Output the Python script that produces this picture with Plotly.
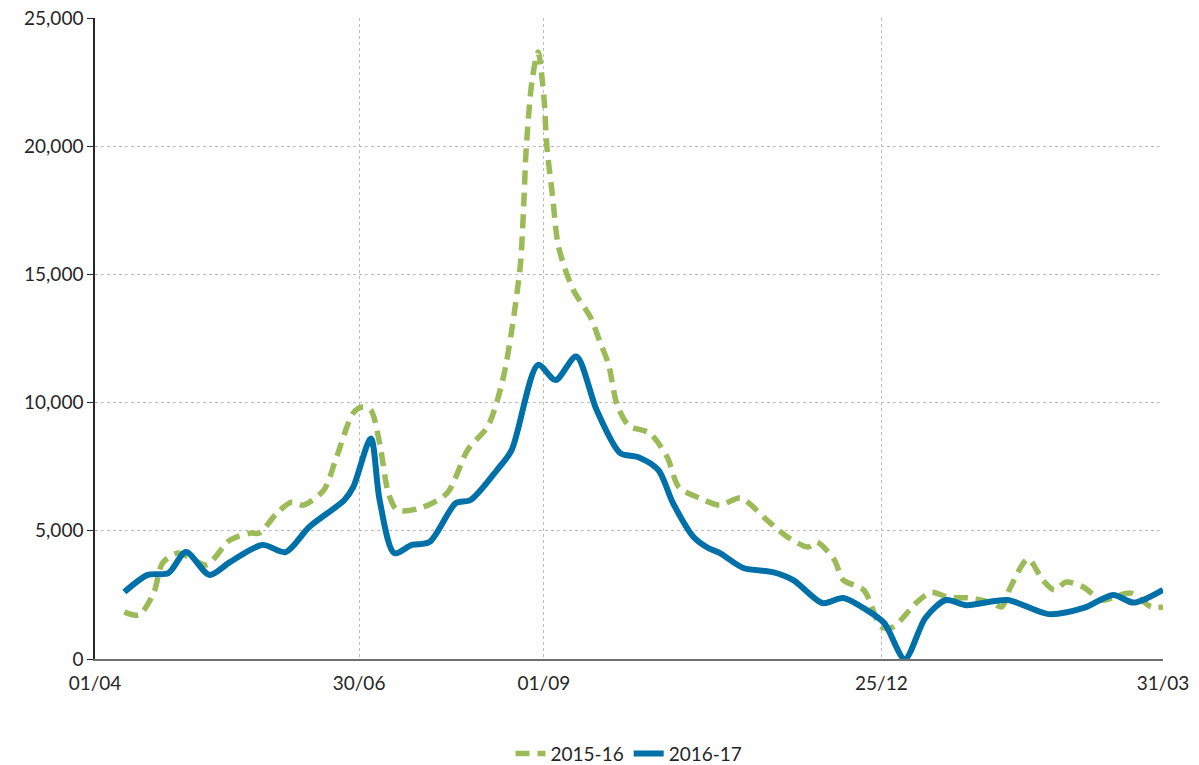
import plotly.graph_objects as go

# Day index from 01/04 (0) to 31/03 (364)
tick_days = [0, 90, 153, 268, 364]
tick_labels = ["01/04", "30/06", "01/09", "25/12", "31/03"]

days_1516 = [10, 15, 20, 23, 28, 32, 38, 46, 53, 56, 62, 67, 71, 78, 82, 88, 91, 94, 97, 100,
             103, 111, 120, 127, 134, 139, 142, 145, 146, 147, 149, 151, 153, 154, 156, 158,
             163, 169, 172, 175, 178, 182, 189, 195, 199, 206, 213, 220, 229, 236, 243, 246,
             252, 255, 262, 268, 272, 280, 285, 291, 298, 306, 309, 312, 318, 323, 327, 331,
             337, 343, 353, 360, 364]
vals_1516 = [1830, 1720, 2570, 3740, 4130, 3980, 3670, 4640, 4910, 4910, 5690, 6120, 6000,
             6590, 7760, 9590, 9830, 9710, 8420, 6470, 5810, 5890, 6470, 8150, 9100, 10900,
             12800, 15400, 17400, 19970, 22600, 23670, 21900, 20000, 18000, 16070, 14400,
             13300, 12400, 11500, 9900, 9100, 8810, 7880, 6700, 6280, 6000, 6280, 5420, 4760,
             4370, 4560, 3860, 3080, 2690, 1250, 1250, 2200, 2600, 2400, 2380, 2180, 2030,
             2800, 3900, 3080, 2690, 3000, 2800, 2300, 2570, 2030, 2030]

days_1617 = [10, 18, 25, 31, 39, 46, 57, 65, 73, 85, 88, 94, 97, 102, 108, 114, 123, 128,
             137, 142, 151, 157, 164, 171, 179, 185, 192, 197, 204, 209, 213, 221, 231, 238,
             248, 255, 263, 269, 276, 283, 290, 297, 311, 325, 337, 347, 354, 364]
vals_1617 = [2610, 3280, 3350, 4170, 3280, 3780, 4450, 4170, 5150, 6200, 6700, 8600, 6200,
             4130, 4450, 4560, 6080, 6200, 7370, 8150, 11470, 10880, 11800, 9700, 8030, 7880,
             7370, 6080, 4760, 4330, 4130, 3550, 3390, 3080, 2180, 2380, 1910, 1400, 0, 1600,
             2300, 2100, 2300, 1750, 1990, 2500, 2200, 2700]

GREEN = "#9BBB59"
BLUE = "#0070A8"
TEXT = "#262626"
FONT = "Lato, 'Open Sans', sans-serif"

fig = go.Figure()
fig.add_trace(go.Scatter(
    x=days_1516, y=vals_1516, name="2015-16", mode="lines",
    line=dict(color=GREEN, width=5.5, dash="14px,8px", shape="spline", smoothing=0.8),
))
fig.add_trace(go.Scatter(
    x=days_1617, y=vals_1617, name="2016-17", mode="lines",
    line=dict(color=BLUE, width=6, shape="spline", smoothing=0.8),
))

fig.update_layout(
    width=1199, height=765,
    paper_bgcolor="white", plot_bgcolor="white",
    margin=dict(l=95, r=36, t=18, b=106, autoexpand=False),
    font=dict(family=FONT, size=19, color=TEXT),
    showlegend=True,
    legend=dict(orientation="h", x=0.5, xanchor="center", y=-0.118, yanchor="top",
                font=dict(size=19, color=TEXT), tracegroupgap=0),
)
fig.update_xaxes(
    range=[0, 364], tickmode="array", tickvals=tick_days, ticktext=tick_labels,
    showgrid=True, gridcolor="#BDBDBD", griddash="dot", gridwidth=1,
    showline=True, linecolor="#6F6F6F", linewidth=1.5,
    ticks="", ticklabelstandoff=6, zeroline=False,
)
fig.update_yaxes(
    range=[0, 25000], tickmode="array", tickvals=[0, 5000, 10000, 15000, 20000, 25000],
    tickformat=",d", showgrid=True, gridcolor="#BDBDBD", griddash="dot", gridwidth=1,
    showline=True, linecolor="#262626", linewidth=1.5,
    ticks="outside", ticklen=6, tickcolor="#262626", zeroline=False,
)

fig.write_html("out.html", config={"displayModeBar": False},
               post_script="document.body.style.margin='0';")
